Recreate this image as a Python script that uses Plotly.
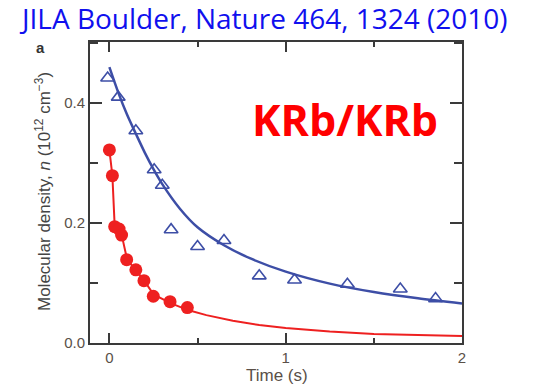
import plotly.graph_objects as go

# Data
blue_t = [-0.01, 0.05, 0.15, 0.254, 0.30, 0.35, 0.50, 0.65, 0.85, 1.05, 1.35, 1.65, 1.85]
blue_n = [0.442, 0.410, 0.354, 0.289, 0.263, 0.189, 0.161, 0.171, 0.112, 0.105, 0.098, 0.090, 0.074]

red_t = [0.0, 0.017, 0.03, 0.055, 0.069, 0.098, 0.15, 0.196, 0.249, 0.344, 0.442]
red_n = [0.322, 0.279, 0.194, 0.190, 0.180, 0.139, 0.122, 0.104, 0.078, 0.069, 0.059]

blue_fit_t = [0.0, 0.05, 0.1, 0.15, 0.2, 0.25, 0.3, 0.4, 0.5, 0.65, 0.8, 1.0, 1.25, 1.5, 1.75, 2.0]
blue_fit_n = [0.46, 0.418, 0.381, 0.349, 0.318, 0.290, 0.265, 0.224, 0.193, 0.163, 0.141, 0.119, 0.099, 0.085, 0.0745, 0.066]

red_fit_t = [0.0, 0.017, 0.03, 0.07, 0.1, 0.15, 0.2, 0.25, 0.35, 0.45, 0.55, 0.7, 0.85, 1.0, 1.25, 1.5, 1.75, 2.0]
red_fit_n = [0.322, 0.279, 0.195, 0.180, 0.140, 0.121, 0.103, 0.081, 0.066, 0.0545, 0.0465, 0.037, 0.030, 0.025, 0.019, 0.015, 0.013, 0.0115]

x_ticks = [0, 1, 2]
y_ticks = [0.0, 0.2, 0.4]

title_text = "JILA Boulder, Nature 464, 1324 (2010)"
label_text = "KRb/KRb"
ylabel = "Molecular density, <i>n</i> (10<sup>12</sup> cm<sup>−3</sup>)"
xlabel = "Time (s)"

blue = "#3d4ea6"
red = "#ee2020"
axis_col = "#3a3a3a"
tick_font = dict(family="Liberation Sans, Arial", size=15, color="#5a5048")

fig = go.Figure()
fig.add_trace(go.Scatter(x=blue_fit_t, y=blue_fit_n, mode="lines",
                         line=dict(color=blue, width=2.5, shape="spline", smoothing=0.8),
                         hoverinfo="skip"))
fig.add_trace(go.Scatter(x=red_fit_t, y=red_fit_n, mode="lines",
                         line=dict(color=red, width=2, shape="linear"),
                         hoverinfo="skip"))
fig.add_trace(go.Scatter(x=blue_t, y=blue_n, mode="markers",
                         marker=dict(symbol="triangle-up-open", size=12, color=blue,
                                     line=dict(width=1.6, color=blue))))
fig.add_trace(go.Scatter(x=red_t, y=red_n, mode="markers",
                         marker=dict(symbol="circle", size=13, color=red,
                                     line=dict(width=0))))

fig.update_layout(
    width=533, height=385,
    margin=dict(l=90, r=71, t=42, b=42),
    paper_bgcolor="white", plot_bgcolor="white",
    showlegend=False,
    xaxis=dict(range=[-0.11, 2.0], tickvals=x_ticks, ticktext=[str(v) for v in x_ticks],
               ticks="inside", ticklen=10, tickwidth=1.5, tickcolor=axis_col,
               minor=dict(dtick=0.5, tick0=0, ticks="inside", ticklen=5, tickwidth=1.5, tickcolor=axis_col),
               showline=True, linewidth=2, linecolor=axis_col, mirror="ticks",
               showgrid=False, zeroline=False, tickfont=tick_font),
    yaxis=dict(range=[0, 0.502], tickvals=y_ticks, ticktext=["%.1f" % v for v in y_ticks],
               ticks="inside", ticklen=12, tickwidth=1.5, tickcolor=axis_col,
               minor=dict(dtick=0.1, tick0=0, ticks="inside", ticklen=8, tickwidth=1.5, tickcolor=axis_col),
               showline=True, linewidth=2, linecolor=axis_col, mirror="ticks",
               showgrid=False, zeroline=False, tickfont=tick_font),
    annotations=[
        dict(text=title_text, xref="paper", yref="paper", x=(263 - 90) / 372, y=1 + (42 - 18) / 301,
             showarrow=False, xanchor="center", yanchor="middle",
             font=dict(family="Open Sans", size=28, color="#1010ee")),
        dict(text="<b>a</b>", xref="paper", yref="paper", x=(40 - 90) / 372, y=1 + (42 - 47) / 301,
             showarrow=False, xanchor="center", yanchor="middle",
             font=dict(family="Liberation Sans, Arial", size=15, color="#333333")),
        dict(text="<b>" + label_text + "</b>", xref="paper", yref="paper", x=(345 - 90) / 372, y=(343 - 119) / 301,
             showarrow=False, xanchor="center", yanchor="middle",
             font=dict(family="Open Sans", size=43, color="#ff0000")),
        dict(text=ylabel, xref="paper", yref="paper", x=(43 - 90) / 372, y=(343 - 192) / 301,
             showarrow=False, xanchor="center", yanchor="middle", textangle=-90,
             font=dict(family="Liberation Sans, Arial", size=17, color="#444444")),
        dict(text=xlabel, xref="paper", yref="paper", x=(277 - 90) / 372, y=-(375 - 343) / 301,
             showarrow=False, xanchor="center", yanchor="middle",
             font=dict(family="Liberation Sans, Arial", size=17, color="#5a5048")),
    ],
)

fig.write_html("out.html")
